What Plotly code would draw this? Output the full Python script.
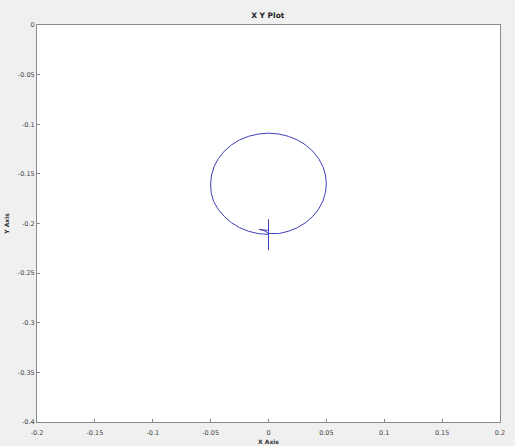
import plotly.graph_objects as go

# Trajectory (X, Y)
x_vals = [0.0, 0.0, 0.0, 0.0, -0.008, -0.004, 0.0,
          0.0087, 0.0171, 0.025, 0.0321, 0.0383, 0.0433, 0.047, 0.0492,
          0.05, 0.0492, 0.047, 0.0433, 0.0383, 0.0321, 0.025, 0.0171, 0.0087,
          0.0, -0.0087, -0.0171, -0.025, -0.0321, -0.0383, -0.0433, -0.047, -0.0492,
          -0.05, -0.0495, -0.0475, -0.0435, -0.0383, -0.0321, -0.025, -0.0171, -0.0087,
          0.0]
y_vals = [-0.227, -0.196, -0.205, -0.207, -0.206, -0.207, -0.210,
          -0.2102, -0.2079, -0.2042, -0.1991, -0.1928, -0.1855, -0.1774, -0.1689,
          -0.160, -0.1511, -0.1426, -0.1345, -0.1272, -0.1209, -0.1158, -0.1121, -0.1098,
          -0.109, -0.1098, -0.1121, -0.1158, -0.1209, -0.1272, -0.1345, -0.1426, -0.1511,
          -0.160, -0.1690, -0.1776, -0.1857, -0.1928, -0.1991, -0.2042, -0.2079, -0.2102,
          -0.211]

x_ticks = [-0.2, -0.15, -0.1, -0.05, 0, 0.05, 0.1, 0.15, 0.2]
x_tick_labels = ["-0.2", "-0.15", "-0.1", "-0.05", "0", "0.05", "0.1", "0.15", "0.2"]
y_ticks = [0, -0.05, -0.1, -0.15, -0.2, -0.25, -0.3, -0.35, -0.4]
y_tick_labels = ["0", "-0.05", "-0.1", "-0.15", "-0.2", "-0.25", "-0.3", "-0.35", "-0.4"]

fig = go.Figure()
fig.add_trace(go.Scatter(x=x_vals, y=y_vals, mode="lines",
                         line=dict(color="#4040b8", width=1), showlegend=False))

axis_common = dict(showgrid=False, zeroline=False, showline=True, mirror=True,
                   linecolor="#8a8a8a", linewidth=1, ticks="inside", ticklen=3,
                   tickcolor="#8a8a8a", automargin=False,
                   tickfont=dict(family="DejaVu Sans", size=6.5, color="#444444"))

fig.update_layout(
    width=515, height=446,
    paper_bgcolor="#f0f0f0", plot_bgcolor="white",
    margin=dict(l=37, r=15, t=25, b=24),
    title=dict(text="<b>X Y Plot</b>", x=0.52, xanchor="center", y=0.966, yanchor="middle",
               yref="container", font=dict(family="DejaVu Sans", size=7.5, color="#222222")),
    xaxis=dict(range=[-0.2, 0.2], tickvals=x_ticks, ticktext=x_tick_labels,
               ticklabelstandoff=4,
               title=dict(text="<b>X Axis</b>", standoff=4,
                          font=dict(family="DejaVu Sans", size=6, color="#333333")),
               **axis_common),
    yaxis=dict(range=[-0.4, 0], tickvals=y_ticks, ticktext=y_tick_labels,
               title=dict(text="<b>Y Axis</b>", standoff=7,
                          font=dict(family="DejaVu Sans", size=6, color="#333333")),
               **axis_common),
)

fig.write_html("out.html", config={"displayModeBar": False},
               post_script="document.body.style.margin='0';document.body.style.background='#f0f0f0';")
